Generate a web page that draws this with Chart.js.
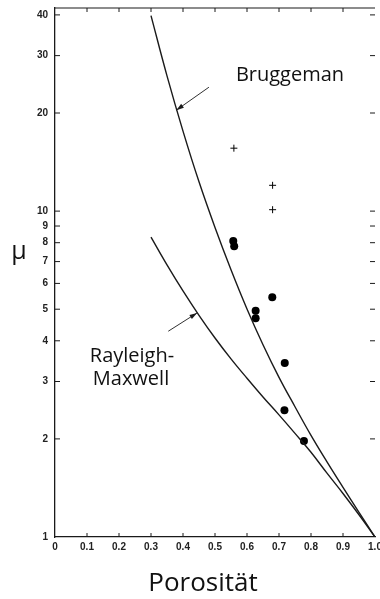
<!DOCTYPE html>
<html lang="de">
<head>
    <meta charset="UTF-8">
    <title>Porosität - μ</title>
    <script src="https://cdn.jsdelivr.net/npm/chart.js"></script>
    <style>
        body { margin: 0; padding: 0; background: #ffffff; }
        #wrap { width: 380px; height: 599px; }
    </style>
</head>
<body>
    <div id="wrap"><canvas id="muChart" width="380" height="599"></canvas></div>
    <script>
        // Kurven
        const porosity = [0.30, 0.35, 0.40, 0.45, 0.50, 0.55, 0.60, 0.65, 0.70, 0.75, 0.80, 0.85, 0.90, 0.95, 1.00];
        const bruggeman = [39.8, 26.0, 17.6, 12.3, 8.91, 6.61, 5.01, 3.89, 3.09, 2.51, 2.05, 1.70, 1.42, 1.19, 1.0];
        const rayleighMaxwell = [8.32, 6.84, 5.69, 4.79, 4.08, 3.52, 3.07, 2.69, 2.37, 2.08, 1.82, 1.57, 1.36, 1.17, 1.0];

        // Messpunkte
        const dotX = [0.557, 0.560, 0.679, 0.627, 0.627, 0.718, 0.717, 0.778];
        const dotY = [8.1, 7.8, 5.44, 4.95, 4.69, 3.42, 2.45, 1.97];
        const plusX = [0.559, 0.680, 0.680];
        const plusY = [15.6, 12.0, 10.1];

        // Achsen
        const xTicks = [0, 0.1, 0.2, 0.3, 0.4, 0.5, 0.6, 0.7, 0.8, 0.9, 1.0];
        const yTicks = [1, 2, 3, 4, 5, 6, 7, 8, 9, 10, 20, 30, 40];

        const ink = '#1a1a1a';

        const toPoints = (xs, ys) => xs.map((x, i) => ({ x: x, y: ys[i] }));

        // Innenliegende Striche, oberer Rahmen, Pfeile und Beschriftungen
        const decorations = {
            id: 'decorations',
            afterDraw(chart) {
                const { ctx, chartArea: a, scales: { x, y } } = chart;
                ctx.save();
                ctx.strokeStyle = ink;
                ctx.lineWidth = 1.2;

                // oberer Rahmen
                ctx.beginPath();
                ctx.moveTo(a.left, a.top);
                ctx.lineTo(a.right, a.top);
                ctx.stroke();

                ctx.lineWidth = 1;
                xTicks.slice(1, -1).forEach(v => {
                    const px = x.getPixelForValue(v);
                    ctx.beginPath();
                    ctx.moveTo(px, a.bottom);
                    ctx.lineTo(px, a.bottom - 4);
                    ctx.moveTo(px, a.top);
                    ctx.lineTo(px, a.top + 4);
                    ctx.stroke();
                });
                yTicks.slice(1).forEach(v => {
                    const py = y.getPixelForValue(v);
                    ctx.beginPath();
                    ctx.moveTo(a.left, py);
                    ctx.lineTo(a.left + 5, py);
                    ctx.moveTo(a.right, py);
                    ctx.lineTo(a.right - 5, py);
                    ctx.stroke();
                });

                // Pfeile
                const arrow = (x0, y0, x1, y1) => {
                    const ax = x.getPixelForValue(x0), ay = y.getPixelForValue(y0);
                    const bx = x.getPixelForValue(x1), by = y.getPixelForValue(y1);
                    const ang = Math.atan2(by - ay, bx - ax);
                    ctx.lineWidth = 0.9;
                    ctx.beginPath();
                    ctx.moveTo(ax, ay);
                    ctx.lineTo(bx, by);
                    ctx.stroke();
                    ctx.beginPath();
                    ctx.moveTo(bx, by);
                    ctx.lineTo(bx - 8 * Math.cos(ang - 0.3), by - 8 * Math.sin(ang - 0.3));
                    ctx.lineTo(bx - 8 * Math.cos(ang + 0.3), by - 8 * Math.sin(ang + 0.3));
                    ctx.closePath();
                    ctx.fillStyle = ink;
                    ctx.fill();
                };
                arrow(0.481, 24.0, 0.379, 20.4);
                arrow(0.354, 4.28, 0.444, 4.87);

                // Texte
                ctx.fillStyle = '#111';
                ctx.textAlign = 'center';
                ctx.textBaseline = 'alphabetic';
                ctx.font = '20px "Open Sans"';
                ctx.fillText('Bruggeman', 290, 81);
                ctx.fillText('Rayleigh-', 132, 362);
                ctx.fillText('Maxwell', 131, 385);
                ctx.font = '25px "Open Sans"';
                ctx.fillText('μ', 19, 259);
                ctx.font = '26px "Open Sans"';
                ctx.fillText('Porosität', 203, 591);
                ctx.restore();
            }
        };

        const ctx = document.getElementById('muChart').getContext('2d');
        const muChart = new Chart(ctx, {
            type: 'scatter',
            data: {
                datasets: [
                    {
                        label: 'Bruggeman',
                        data: toPoints(porosity, bruggeman),
                        showLine: true,
                        borderColor: ink,
                        borderWidth: 1.4,
                        pointRadius: 0,
                        tension: 0.4
                    },
                    {
                        label: 'Rayleigh-Maxwell',
                        data: toPoints(porosity, rayleighMaxwell),
                        showLine: true,
                        borderColor: ink,
                        borderWidth: 1.4,
                        pointRadius: 0,
                        tension: 0.4
                    },
                    {
                        label: 'Messwerte',
                        data: toPoints(dotX, dotY),
                        pointStyle: 'circle',
                        pointRadius: 4,
                        backgroundColor: '#000',
                        borderColor: '#000',
                        borderWidth: 0
                    },
                    {
                        label: 'Messwerte (+)',
                        data: toPoints(plusX, plusY),
                        pointStyle: 'cross',
                        pointRadius: 3.5,
                        borderColor: '#000',
                        borderWidth: 1
                    }
                ]
            },
            options: {
                responsive: false,
                animation: false,
                layout: { padding: { top: 8, right: 2, left: 0, bottom: 0 } },
                plugins: {
                    legend: { display: false },
                    tooltip: { enabled: false }
                },
                scales: {
                    x: {
                        type: 'linear',
                        min: 0,
                        max: 1.0,
                        afterBuildTicks: scale => { scale.ticks = xTicks.map(v => ({ value: v })); },
                        afterFit: scale => {
                            scale.height = 62;
                            scale.paddingLeft = 0;
                            scale.paddingRight = 0;
                        },
                        ticks: {
                            padding: 4,
                            color: '#222',
                            font: { family: 'Liberation Sans', size: 10, weight: 'bold' },
                            callback: v => (v === 0 ? '0' : v.toFixed(1))
                        },
                        grid: { drawOnChartArea: false, drawTicks: false },
                        border: { color: ink, width: 1.3 }
                    },
                    y: {
                        type: 'logarithmic',
                        min: 1,
                        max: 42,
                        afterBuildTicks: scale => { scale.ticks = yTicks.map(v => ({ value: v })); },
                        afterFit: scale => {
                            scale.width = 55;
                            scale.paddingTop = 0;
                            scale.paddingBottom = 0;
                        },
                        ticks: {
                            padding: 7,
                            color: '#222',
                            font: { family: 'Liberation Sans', size: 10, weight: 'bold' },
                            callback: v => String(v)
                        },
                        grid: { drawOnChartArea: false, drawTicks: false },
                        border: { color: ink, width: 1.3 }
                    }
                }
            },
            plugins: [decorations]
        });
    </script>
</body>
</html>
